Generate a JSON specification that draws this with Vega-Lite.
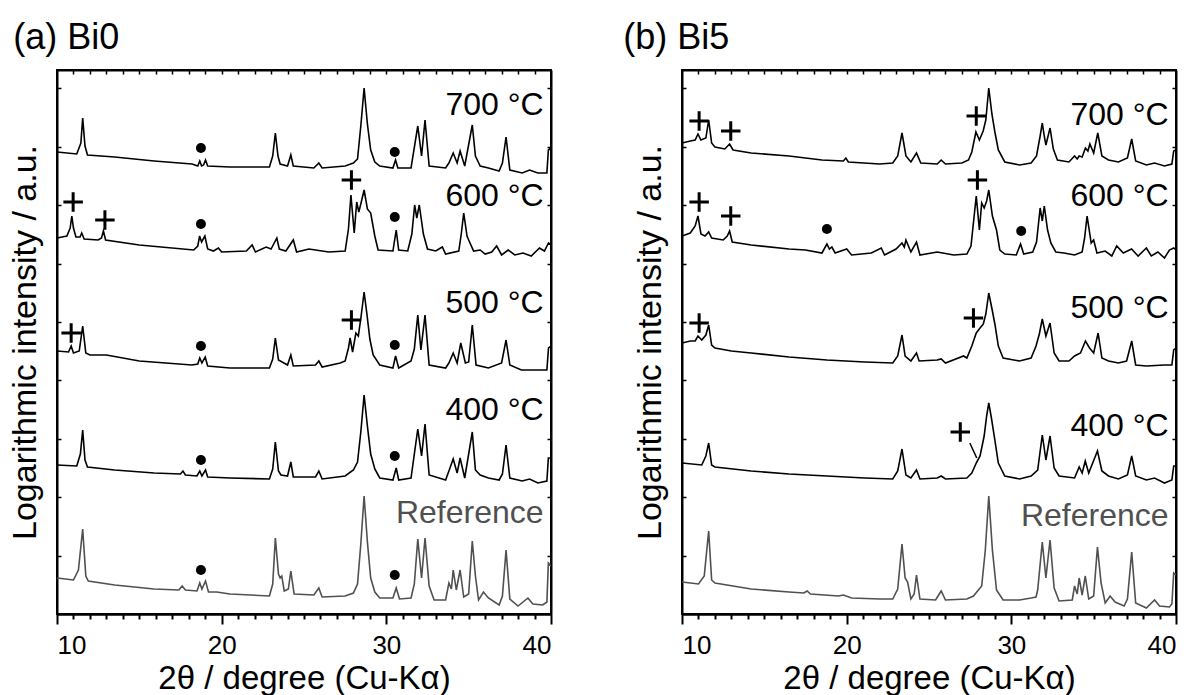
{
"$schema":"https://vega.github.io/schema/vega-lite/v6.json",
"padding":{"left":7,"top":19,"right":5,"bottom":0},
"config":{"view":{"stroke":"black","strokeWidth":2},"font":"Liberation Sans","axis":{"grid":false,"domainColor":"black","tickColor":"black","labelColor":"black","titleColor":"black","labelFont":"Liberation Sans","titleFont":"Liberation Sans","titleFontWeight":"normal"},"title":{"font":"Liberation Sans","fontWeight":"normal","color":"black"}},
"datasets":{
"a":[
{"s":"700","x":10,"y":462},{"s":"700","x":11.2,"y":460},{"s":"700","x":11.45,"y":471},{"s":"700","x":11.56,"y":496},{"s":"700","x":11.7,"y":468},{"s":"700","x":11.85,"y":459},{"s":"700","x":13.5,"y":457},{"s":"700","x":15.9,"y":453},{"s":"700","x":18.2,"y":450},{"s":"700","x":18.55,"y":448},{"s":"700","x":18.67,"y":453},{"s":"700","x":18.78,"y":448},{"s":"700","x":18.9,"y":449},{"s":"700","x":19.02,"y":454},{"s":"700","x":19.15,"y":448},{"s":"700","x":20.5,"y":447},{"s":"700","x":22.9,"y":447},{"s":"700","x":23.1,"y":458},{"s":"700","x":23.26,"y":481},{"s":"700","x":23.42,"y":458},{"s":"700","x":23.55,"y":450},{"s":"700","x":24.0,"y":448},{"s":"700","x":24.2,"y":459},{"s":"700","x":24.35,"y":448},{"s":"700","x":25.6,"y":446},{"s":"700","x":25.9,"y":451},{"s":"700","x":26.1,"y":446},{"s":"700","x":27.5,"y":448},{"s":"700","x":28.0,"y":451},{"s":"700","x":28.25,"y":455},{"s":"700","x":28.45,"y":488},{"s":"700","x":28.65,"y":526},{"s":"700","x":28.85,"y":490},{"s":"700","x":29.05,"y":464},{"s":"700","x":29.3,"y":452},{"s":"700","x":29.6,"y":448},{"s":"700","x":30.4,"y":446},{"s":"700","x":30.56,"y":454},{"s":"700","x":30.7,"y":446},{"s":"700","x":31.5,"y":446},{"s":"700","x":31.91,"y":488},{"s":"700","x":32.14,"y":458},{"s":"700","x":32.35,"y":494},{"s":"700","x":32.6,"y":448},{"s":"700","x":33.6,"y":446},{"s":"700","x":33.8,"y":451},{"s":"700","x":34.06,"y":461},{"s":"700","x":34.3,"y":451},{"s":"700","x":34.48,"y":463},{"s":"700","x":34.76,"y":448},{"s":"700","x":35.22,"y":489},{"s":"700","x":35.41,"y":458},{"s":"700","x":35.7,"y":448},{"s":"700","x":36.2,"y":446},{"s":"700","x":36.85,"y":443},{"s":"700","x":37.05,"y":451},{"s":"700","x":37.27,"y":477},{"s":"700","x":37.5,"y":444},{"s":"700","x":38.25,"y":441},{"s":"700","x":38.7,"y":444},{"s":"700","x":39.2,"y":441},{"s":"700","x":39.75,"y":441},{"s":"700","x":39.84,"y":464},{"s":"700","x":40,"y":466},
{"s":"600","x":10,"y":376},{"s":"600","x":10.6,"y":378},{"s":"600","x":10.8,"y":386},{"s":"600","x":10.9,"y":398},{"s":"600","x":11.0,"y":386},{"s":"600","x":11.15,"y":377},{"s":"600","x":11.4,"y":377},{"s":"600","x":11.5,"y":381},{"s":"600","x":11.65,"y":375},{"s":"600","x":12.5,"y":374},{"s":"600","x":12.7,"y":376},{"s":"600","x":12.82,"y":383},{"s":"600","x":12.95,"y":374},{"s":"600","x":15,"y":369},{"s":"600","x":18.3,"y":364},{"s":"600","x":18.55,"y":368},{"s":"600","x":18.66,"y":378},{"s":"600","x":18.78,"y":372},{"s":"600","x":18.98,"y":378},{"s":"600","x":19.15,"y":365},{"s":"600","x":19.5,"y":363},{"s":"600","x":19.8,"y":366},{"s":"600","x":20.0,"y":362},{"s":"600","x":21.5,"y":363},{"s":"600","x":21.85,"y":369},{"s":"600","x":22.05,"y":362},{"s":"600","x":22.7,"y":367},{"s":"600","x":23.0,"y":365},{"s":"600","x":23.35,"y":376},{"s":"600","x":23.5,"y":365},{"s":"600","x":23.9,"y":363},{"s":"600","x":24.35,"y":374},{"s":"600","x":24.55,"y":362},{"s":"600","x":25.3,"y":365},{"s":"600","x":26.5,"y":362},{"s":"600","x":27.5,"y":363},{"s":"600","x":27.7,"y":385},{"s":"600","x":27.85,"y":419},{"s":"600","x":28.05,"y":381},{"s":"600","x":28.2,"y":412},{"s":"600","x":28.33,"y":402},{"s":"600","x":28.45,"y":410},{"s":"600","x":28.65,"y":424},{"s":"600","x":28.85,"y":405},{"s":"600","x":29.05,"y":401},{"s":"600","x":29.3,"y":378},{"s":"600","x":29.5,"y":364},{"s":"600","x":30.4,"y":363},{"s":"600","x":30.6,"y":384},{"s":"600","x":30.75,"y":364},{"s":"600","x":31.3,"y":363},{"s":"600","x":31.55,"y":380},{"s":"600","x":31.72,"y":409},{"s":"600","x":31.85,"y":396},{"s":"600","x":32.0,"y":409},{"s":"600","x":32.25,"y":380},{"s":"600","x":32.5,"y":365},{"s":"600","x":33.0,"y":363},{"s":"600","x":33.4,"y":367},{"s":"600","x":33.6,"y":360},{"s":"600","x":34.4,"y":363},{"s":"600","x":34.55,"y":380},{"s":"600","x":34.7,"y":401},{"s":"600","x":34.9,"y":378},{"s":"600","x":35.0,"y":374},{"s":"600","x":35.3,"y":363},{"s":"600","x":35.7,"y":364},{"s":"600","x":36.0,"y":360},{"s":"600","x":36.4,"y":362},{"s":"600","x":36.7,"y":368},{"s":"600","x":37.0,"y":359},{"s":"600","x":37.4,"y":364},{"s":"600","x":37.8,"y":359},{"s":"600","x":38.3,"y":361},{"s":"600","x":38.8,"y":358},{"s":"600","x":39.3,"y":366},{"s":"600","x":39.6,"y":363},{"s":"600","x":39.85,"y":371},{"s":"600","x":40,"y":369},
{"s":"500","x":10,"y":263},{"s":"500","x":10.7,"y":262},{"s":"500","x":10.86,"y":268},{"s":"500","x":11.0,"y":261},{"s":"500","x":11.35,"y":263},{"s":"500","x":11.56,"y":288},{"s":"500","x":11.75,"y":261},{"s":"500","x":12,"y":259},{"s":"500","x":13,"y":259},{"s":"500","x":15,"y":253},{"s":"500","x":18.2,"y":249},{"s":"500","x":18.55,"y":250},{"s":"500","x":18.67,"y":256},{"s":"500","x":18.8,"y":251},{"s":"500","x":19.0,"y":257},{"s":"500","x":19.15,"y":248},{"s":"500","x":20.5,"y":246},{"s":"500","x":22.9,"y":246},{"s":"500","x":23.1,"y":255},{"s":"500","x":23.26,"y":276},{"s":"500","x":23.45,"y":254},{"s":"500","x":24.0,"y":249},{"s":"500","x":24.2,"y":259},{"s":"500","x":24.35,"y":248},{"s":"500","x":25.7,"y":249},{"s":"500","x":25.9,"y":253},{"s":"500","x":26.1,"y":247},{"s":"500","x":27.2,"y":251},{"s":"500","x":27.5,"y":253},{"s":"500","x":27.7,"y":266},{"s":"500","x":27.8,"y":276},{"s":"500","x":27.95,"y":262},{"s":"500","x":28.15,"y":281},{"s":"500","x":28.3,"y":278},{"s":"500","x":28.47,"y":298},{"s":"500","x":28.65,"y":322},{"s":"500","x":28.82,"y":300},{"s":"500","x":29.0,"y":275},{"s":"500","x":29.2,"y":259},{"s":"500","x":29.6,"y":249},{"s":"500","x":30.4,"y":246},{"s":"500","x":30.56,"y":258},{"s":"500","x":30.75,"y":246},{"s":"500","x":31.5,"y":253},{"s":"500","x":31.7,"y":265},{"s":"500","x":31.91,"y":299},{"s":"500","x":32.1,"y":264},{"s":"500","x":32.35,"y":299},{"s":"500","x":32.6,"y":249},{"s":"500","x":33.6,"y":246},{"s":"500","x":33.8,"y":251},{"s":"500","x":34.06,"y":261},{"s":"500","x":34.3,"y":251},{"s":"500","x":34.52,"y":271},{"s":"500","x":34.8,"y":251},{"s":"500","x":35.0,"y":252},{"s":"500","x":35.22,"y":289},{"s":"500","x":35.45,"y":249},{"s":"500","x":36.2,"y":246},{"s":"500","x":37.0,"y":251},{"s":"500","x":37.27,"y":274},{"s":"500","x":37.5,"y":249},{"s":"500","x":38.2,"y":244},{"s":"500","x":39.2,"y":244},{"s":"500","x":39.75,"y":244},{"s":"500","x":39.85,"y":266},{"s":"500","x":40,"y":268},
{"s":"400","x":10,"y":149},{"s":"400","x":11.2,"y":148},{"s":"400","x":11.42,"y":160},{"s":"400","x":11.56,"y":184},{"s":"400","x":11.7,"y":154},{"s":"400","x":11.85,"y":147},{"s":"400","x":13.5,"y":144},{"s":"400","x":15.9,"y":141},{"s":"400","x":17.5,"y":140},{"s":"400","x":17.65,"y":143},{"s":"400","x":17.8,"y":139},{"s":"400","x":18.5,"y":138},{"s":"400","x":18.67,"y":143},{"s":"400","x":18.8,"y":138},{"s":"400","x":19.02,"y":144},{"s":"400","x":19.15,"y":137},{"s":"400","x":20.5,"y":136},{"s":"400","x":22.9,"y":135},{"s":"400","x":23.1,"y":145},{"s":"400","x":23.26,"y":172},{"s":"400","x":23.45,"y":143},{"s":"400","x":23.6,"y":139},{"s":"400","x":24.0,"y":138},{"s":"400","x":24.2,"y":152},{"s":"400","x":24.35,"y":137},{"s":"400","x":25.7,"y":137},{"s":"400","x":25.9,"y":143},{"s":"400","x":26.1,"y":135},{"s":"400","x":27.5,"y":138},{"s":"400","x":28.0,"y":144},{"s":"400","x":28.25,"y":152},{"s":"400","x":28.45,"y":182},{"s":"400","x":28.65,"y":219},{"s":"400","x":28.85,"y":188},{"s":"400","x":29.05,"y":160},{"s":"400","x":29.3,"y":145},{"s":"400","x":29.6,"y":136},{"s":"400","x":30.4,"y":134},{"s":"400","x":30.6,"y":146},{"s":"400","x":30.75,"y":134},{"s":"400","x":31.5,"y":136},{"s":"400","x":31.91,"y":185},{"s":"400","x":32.14,"y":158},{"s":"400","x":32.35,"y":190},{"s":"400","x":32.6,"y":139},{"s":"400","x":33.6,"y":134},{"s":"400","x":33.8,"y":143},{"s":"400","x":34.06,"y":155},{"s":"400","x":34.3,"y":141},{"s":"400","x":34.48,"y":156},{"s":"400","x":34.76,"y":136},{"s":"400","x":35.22,"y":182},{"s":"400","x":35.41,"y":144},{"s":"400","x":35.7,"y":139},{"s":"400","x":36.2,"y":136},{"s":"400","x":36.85,"y":134},{"s":"400","x":37.05,"y":140},{"s":"400","x":37.27,"y":169},{"s":"400","x":37.5,"y":136},{"s":"400","x":38.25,"y":133},{"s":"400","x":38.7,"y":135},{"s":"400","x":39.2,"y":131},{"s":"400","x":39.75,"y":133},{"s":"400","x":39.84,"y":156},{"s":"400","x":40,"y":156},
{"s":"Reference","x":10,"y":36},{"s":"Reference","x":11.0,"y":34},{"s":"Reference","x":11.3,"y":44},{"s":"Reference","x":11.56,"y":85},{"s":"Reference","x":11.75,"y":38},{"s":"Reference","x":11.9,"y":33},{"s":"Reference","x":13.5,"y":29},{"s":"Reference","x":15.9,"y":25},{"s":"Reference","x":17.4,"y":24},{"s":"Reference","x":17.6,"y":28},{"s":"Reference","x":17.8,"y":24},{"s":"Reference","x":18.5,"y":23},{"s":"Reference","x":18.67,"y":31},{"s":"Reference","x":18.8,"y":25},{"s":"Reference","x":19.02,"y":33},{"s":"Reference","x":19.2,"y":22},{"s":"Reference","x":19.7,"y":22},{"s":"Reference","x":20.5,"y":20},{"s":"Reference","x":22.9,"y":18},{"s":"Reference","x":23.1,"y":30},{"s":"Reference","x":23.26,"y":76},{"s":"Reference","x":23.45,"y":40},{"s":"Reference","x":23.55,"y":36},{"s":"Reference","x":23.65,"y":38},{"s":"Reference","x":23.8,"y":23},{"s":"Reference","x":24.05,"y":25},{"s":"Reference","x":24.2,"y":43},{"s":"Reference","x":24.4,"y":20},{"s":"Reference","x":25.6,"y":19},{"s":"Reference","x":25.9,"y":26},{"s":"Reference","x":26.1,"y":17},{"s":"Reference","x":27.5,"y":18},{"s":"Reference","x":28.0,"y":21},{"s":"Reference","x":28.25,"y":30},{"s":"Reference","x":28.45,"y":70},{"s":"Reference","x":28.65,"y":118},{"s":"Reference","x":28.85,"y":72},{"s":"Reference","x":29.05,"y":36},{"s":"Reference","x":29.3,"y":22},{"s":"Reference","x":29.6,"y":16},{"s":"Reference","x":30.4,"y":16},{"s":"Reference","x":30.6,"y":26},{"s":"Reference","x":30.8,"y":15},{"s":"Reference","x":31.5,"y":16},{"s":"Reference","x":31.7,"y":30},{"s":"Reference","x":31.91,"y":75},{"s":"Reference","x":32.14,"y":36},{"s":"Reference","x":32.35,"y":76},{"s":"Reference","x":32.6,"y":28},{"s":"Reference","x":32.9,"y":14},{"s":"Reference","x":33.6,"y":14},{"s":"Reference","x":33.8,"y":31},{"s":"Reference","x":33.95,"y":25},{"s":"Reference","x":34.06,"y":44},{"s":"Reference","x":34.25,"y":24},{"s":"Reference","x":34.48,"y":44},{"s":"Reference","x":34.7,"y":17},{"s":"Reference","x":35.0,"y":20},{"s":"Reference","x":35.22,"y":73},{"s":"Reference","x":35.41,"y":38},{"s":"Reference","x":35.6,"y":14},{"s":"Reference","x":35.9,"y":22},{"s":"Reference","x":36.2,"y":16},{"s":"Reference","x":36.85,"y":9},{"s":"Reference","x":37.05,"y":18},{"s":"Reference","x":37.27,"y":64},{"s":"Reference","x":37.5,"y":15},{"s":"Reference","x":38.0,"y":8},{"s":"Reference","x":38.6,"y":16},{"s":"Reference","x":38.9,"y":10},{"s":"Reference","x":39.5,"y":9},{"s":"Reference","x":39.75,"y":12},{"s":"Reference","x":39.84,"y":51},{"s":"Reference","x":40,"y":48}
],
"b":[
{"s":"700","x":10,"y":471},{"s":"700","x":10.5,"y":473},{"s":"700","x":10.8,"y":474},{"s":"700","x":10.97,"y":480},{"s":"700","x":11.15,"y":474},{"s":"700","x":11.45,"y":476},{"s":"700","x":11.62,"y":494},{"s":"700","x":11.8,"y":471},{"s":"700","x":12.0,"y":467},{"s":"700","x":12.6,"y":465},{"s":"700","x":12.89,"y":470},{"s":"700","x":13.1,"y":464},{"s":"700","x":14.2,"y":461},{"s":"700","x":16.5,"y":458},{"s":"700","x":18.5,"y":454},{"s":"700","x":19.8,"y":453},{"s":"700","x":19.95,"y":456},{"s":"700","x":20.1,"y":452},{"s":"700","x":22.0,"y":450},{"s":"700","x":22.8,"y":451},{"s":"700","x":23.1,"y":458},{"s":"700","x":23.36,"y":481},{"s":"700","x":23.6,"y":458},{"s":"700","x":23.9,"y":452},{"s":"700","x":24.24,"y":461},{"s":"700","x":24.5,"y":451},{"s":"700","x":25.5,"y":450},{"s":"700","x":25.74,"y":454},{"s":"700","x":26.0,"y":450},{"s":"700","x":27.0,"y":451},{"s":"700","x":27.4,"y":454},{"s":"700","x":27.6,"y":462},{"s":"700","x":27.85,"y":482},{"s":"700","x":28.06,"y":474},{"s":"700","x":28.29,"y":483},{"s":"700","x":28.45,"y":494},{"s":"700","x":28.63,"y":526},{"s":"700","x":28.82,"y":500},{"s":"700","x":29.0,"y":482},{"s":"700","x":29.21,"y":464},{"s":"700","x":29.6,"y":452},{"s":"700","x":30.5,"y":449},{"s":"700","x":31.2,"y":451},{"s":"700","x":31.53,"y":458},{"s":"700","x":31.75,"y":478},{"s":"700","x":31.88,"y":491},{"s":"700","x":32.0,"y":478},{"s":"700","x":32.1,"y":469},{"s":"700","x":32.35,"y":486},{"s":"700","x":32.55,"y":465},{"s":"700","x":32.8,"y":454},{"s":"700","x":33.5,"y":452},{"s":"700","x":33.84,"y":458},{"s":"700","x":34.0,"y":455},{"s":"700","x":34.12,"y":458},{"s":"700","x":34.3,"y":457},{"s":"700","x":34.5,"y":466},{"s":"700","x":34.65,"y":463},{"s":"700","x":34.77,"y":470},{"s":"700","x":35.0,"y":461},{"s":"700","x":35.25,"y":481},{"s":"700","x":35.5,"y":458},{"s":"700","x":35.9,"y":454},{"s":"700","x":36.5,"y":452},{"s":"700","x":37.05,"y":456},{"s":"700","x":37.31,"y":475},{"s":"700","x":37.55,"y":453},{"s":"700","x":38.2,"y":449},{"s":"700","x":38.7,"y":451},{"s":"700","x":39.3,"y":448},{"s":"700","x":39.75,"y":450},{"s":"700","x":39.86,"y":463},{"s":"700","x":40,"y":464},
{"s":"600","x":10,"y":378},{"s":"600","x":10.5,"y":381},{"s":"600","x":10.8,"y":388},{"s":"600","x":10.97,"y":398},{"s":"600","x":11.15,"y":380},{"s":"600","x":11.4,"y":378},{"s":"600","x":11.62,"y":382},{"s":"600","x":11.8,"y":376},{"s":"600","x":12.5,"y":374},{"s":"600","x":12.75,"y":378},{"s":"600","x":12.89,"y":383},{"s":"600","x":13.05,"y":372},{"s":"600","x":14.2,"y":369},{"s":"600","x":16.5,"y":365},{"s":"600","x":17.5,"y":364},{"s":"600","x":18.5,"y":361},{"s":"600","x":18.8,"y":370},{"s":"600","x":18.95,"y":365},{"s":"600","x":19.1,"y":367},{"s":"600","x":19.3,"y":361},{"s":"600","x":20.0,"y":365},{"s":"600","x":20.3,"y":359},{"s":"600","x":21.5,"y":361},{"s":"600","x":22.1,"y":366},{"s":"600","x":22.3,"y":359},{"s":"600","x":23.0,"y":365},{"s":"600","x":23.36,"y":371},{"s":"600","x":23.5,"y":367},{"s":"600","x":23.6,"y":374},{"s":"600","x":23.9,"y":362},{"s":"600","x":24.24,"y":372},{"s":"600","x":24.45,"y":359},{"s":"600","x":25.5,"y":362},{"s":"600","x":26.5,"y":359},{"s":"600","x":27.3,"y":360},{"s":"600","x":27.55,"y":368},{"s":"600","x":27.87,"y":418},{"s":"600","x":28.06,"y":384},{"s":"600","x":28.2,"y":411},{"s":"600","x":28.35,"y":406},{"s":"600","x":28.5,"y":413},{"s":"600","x":28.63,"y":424},{"s":"600","x":28.85,"y":398},{"s":"600","x":29.1,"y":384},{"s":"600","x":29.3,"y":364},{"s":"600","x":29.6,"y":360},{"s":"600","x":30.3,"y":359},{"s":"600","x":30.56,"y":370},{"s":"600","x":30.75,"y":360},{"s":"600","x":31.3,"y":362},{"s":"600","x":31.53,"y":372},{"s":"600","x":31.75,"y":406},{"s":"600","x":31.88,"y":393},{"s":"600","x":32.0,"y":408},{"s":"600","x":32.2,"y":384},{"s":"600","x":32.4,"y":371},{"s":"600","x":32.7,"y":362},{"s":"600","x":33.2,"y":361},{"s":"600","x":33.84,"y":359},{"s":"600","x":34.3,"y":362},{"s":"600","x":34.45,"y":376},{"s":"600","x":34.6,"y":398},{"s":"600","x":34.85,"y":371},{"s":"600","x":35.0,"y":374},{"s":"600","x":35.2,"y":361},{"s":"600","x":35.7,"y":363},{"s":"600","x":36.1,"y":358},{"s":"600","x":36.4,"y":368},{"s":"600","x":36.8,"y":361},{"s":"600","x":37.3,"y":365},{"s":"600","x":37.7,"y":358},{"s":"600","x":38.2,"y":366},{"s":"600","x":38.5,"y":358},{"s":"600","x":38.9,"y":362},{"s":"600","x":39.3,"y":356},{"s":"600","x":39.6,"y":364},{"s":"600","x":39.86,"y":366},{"s":"600","x":40,"y":364},
{"s":"500","x":10,"y":271},{"s":"500","x":10.5,"y":273},{"s":"500","x":10.8,"y":273},{"s":"500","x":10.97,"y":278},{"s":"500","x":11.2,"y":274},{"s":"500","x":11.45,"y":279},{"s":"500","x":11.62,"y":289},{"s":"500","x":11.8,"y":269},{"s":"500","x":12.0,"y":266},{"s":"500","x":13,"y":263},{"s":"500","x":14.2,"y":261},{"s":"500","x":16.5,"y":257},{"s":"500","x":18.8,"y":254},{"s":"500","x":21.1,"y":252},{"s":"500","x":22.8,"y":251},{"s":"500","x":23.1,"y":258},{"s":"500","x":23.36,"y":279},{"s":"500","x":23.55,"y":258},{"s":"500","x":23.9,"y":253},{"s":"500","x":24.24,"y":261},{"s":"500","x":24.4,"y":253},{"s":"500","x":25.5,"y":254},{"s":"500","x":25.74,"y":255},{"s":"500","x":26.0,"y":251},{"s":"500","x":27.1,"y":258},{"s":"500","x":27.3,"y":256},{"s":"500","x":27.6,"y":268},{"s":"500","x":27.87,"y":281},{"s":"500","x":28.1,"y":286},{"s":"500","x":28.3,"y":290},{"s":"500","x":28.45,"y":300},{"s":"500","x":28.63,"y":321},{"s":"500","x":28.85,"y":303},{"s":"500","x":29.0,"y":290},{"s":"500","x":29.21,"y":268},{"s":"500","x":29.5,"y":256},{"s":"500","x":30.5,"y":253},{"s":"500","x":31.2,"y":256},{"s":"500","x":31.5,"y":268},{"s":"500","x":31.7,"y":280},{"s":"500","x":31.88,"y":295},{"s":"500","x":32.1,"y":278},{"s":"500","x":32.35,"y":291},{"s":"500","x":32.6,"y":261},{"s":"500","x":32.9,"y":253},{"s":"500","x":33.5,"y":253},{"s":"500","x":33.84,"y":258},{"s":"500","x":34.2,"y":261},{"s":"500","x":34.5,"y":273},{"s":"500","x":34.75,"y":266},{"s":"500","x":35.0,"y":261},{"s":"500","x":35.27,"y":281},{"s":"500","x":35.5,"y":256},{"s":"500","x":35.9,"y":253},{"s":"500","x":36.5,"y":251},{"s":"500","x":37.0,"y":253},{"s":"500","x":37.31,"y":273},{"s":"500","x":37.55,"y":249},{"s":"500","x":38.2,"y":248},{"s":"500","x":39.3,"y":249},{"s":"500","x":39.75,"y":249},{"s":"500","x":39.86,"y":264},{"s":"500","x":40,"y":266},
{"s":"400","x":10,"y":151},{"s":"400","x":11.2,"y":149},{"s":"400","x":11.45,"y":158},{"s":"400","x":11.62,"y":171},{"s":"400","x":11.8,"y":149},{"s":"400","x":12.0,"y":147},{"s":"400","x":14.2,"y":143},{"s":"400","x":16.5,"y":140},{"s":"400","x":18.8,"y":138},{"s":"400","x":21.1,"y":136},{"s":"400","x":22.8,"y":135},{"s":"400","x":23.1,"y":143},{"s":"400","x":23.36,"y":165},{"s":"400","x":23.6,"y":139},{"s":"400","x":23.9,"y":136},{"s":"400","x":24.24,"y":144},{"s":"400","x":24.45,"y":135},{"s":"400","x":25.5,"y":136},{"s":"400","x":25.74,"y":138},{"s":"400","x":26.0,"y":135},{"s":"400","x":27.3,"y":136},{"s":"400","x":27.6,"y":141},{"s":"400","x":27.87,"y":151},{"s":"400","x":28.1,"y":158},{"s":"400","x":28.35,"y":178},{"s":"400","x":28.5,"y":198},{"s":"400","x":28.63,"y":211},{"s":"400","x":28.8,"y":195},{"s":"400","x":28.98,"y":176},{"s":"400","x":29.21,"y":151},{"s":"400","x":29.6,"y":138},{"s":"400","x":30.5,"y":135},{"s":"400","x":31.2,"y":138},{"s":"400","x":31.6,"y":144},{"s":"400","x":31.88,"y":179},{"s":"400","x":32.1,"y":154},{"s":"400","x":32.35,"y":178},{"s":"400","x":32.6,"y":146},{"s":"400","x":32.9,"y":138},{"s":"400","x":33.84,"y":136},{"s":"400","x":34.12,"y":147},{"s":"400","x":34.3,"y":141},{"s":"400","x":34.49,"y":153},{"s":"400","x":34.7,"y":141},{"s":"400","x":35.23,"y":163},{"s":"400","x":35.5,"y":143},{"s":"400","x":35.9,"y":138},{"s":"400","x":36.5,"y":135},{"s":"400","x":37.05,"y":139},{"s":"400","x":37.31,"y":158},{"s":"400","x":37.55,"y":138},{"s":"400","x":38.2,"y":134},{"s":"400","x":38.7,"y":136},{"s":"400","x":39.3,"y":131},{"s":"400","x":39.75,"y":134},{"s":"400","x":39.86,"y":148},{"s":"400","x":40,"y":148},
{"s":"Reference","x":10,"y":32},{"s":"Reference","x":11.0,"y":30},{"s":"Reference","x":11.35,"y":38},{"s":"Reference","x":11.62,"y":83},{"s":"Reference","x":11.8,"y":34},{"s":"Reference","x":12.0,"y":31},{"s":"Reference","x":14.2,"y":25},{"s":"Reference","x":16.5,"y":22},{"s":"Reference","x":17.4,"y":21},{"s":"Reference","x":17.6,"y":23},{"s":"Reference","x":17.8,"y":20},{"s":"Reference","x":19.5,"y":18},{"s":"Reference","x":19.8,"y":19},{"s":"Reference","x":20.3,"y":16},{"s":"Reference","x":22.0,"y":15},{"s":"Reference","x":22.8,"y":15},{"s":"Reference","x":23.1,"y":25},{"s":"Reference","x":23.36,"y":70},{"s":"Reference","x":23.55,"y":36},{"s":"Reference","x":23.7,"y":32},{"s":"Reference","x":23.9,"y":15},{"s":"Reference","x":24.1,"y":20},{"s":"Reference","x":24.24,"y":39},{"s":"Reference","x":24.45,"y":15},{"s":"Reference","x":25.4,"y":14},{"s":"Reference","x":25.74,"y":23},{"s":"Reference","x":26.0,"y":14},{"s":"Reference","x":27.3,"y":15},{"s":"Reference","x":27.7,"y":18},{"s":"Reference","x":28.2,"y":28},{"s":"Reference","x":28.42,"y":64},{"s":"Reference","x":28.63,"y":118},{"s":"Reference","x":28.85,"y":64},{"s":"Reference","x":29.1,"y":24},{"s":"Reference","x":29.5,"y":14},{"s":"Reference","x":30.5,"y":14},{"s":"Reference","x":31.2,"y":16},{"s":"Reference","x":31.5,"y":17},{"s":"Reference","x":31.6,"y":24},{"s":"Reference","x":31.88,"y":72},{"s":"Reference","x":32.1,"y":36},{"s":"Reference","x":32.35,"y":74},{"s":"Reference","x":32.6,"y":26},{"s":"Reference","x":32.9,"y":13},{"s":"Reference","x":33.7,"y":14},{"s":"Reference","x":33.84,"y":28},{"s":"Reference","x":34.0,"y":20},{"s":"Reference","x":34.12,"y":36},{"s":"Reference","x":34.3,"y":19},{"s":"Reference","x":34.49,"y":38},{"s":"Reference","x":34.7,"y":15},{"s":"Reference","x":35.0,"y":18},{"s":"Reference","x":35.23,"y":67},{"s":"Reference","x":35.45,"y":31},{"s":"Reference","x":35.7,"y":11},{"s":"Reference","x":36.0,"y":18},{"s":"Reference","x":36.3,"y":12},{"s":"Reference","x":36.85,"y":8},{"s":"Reference","x":37.05,"y":15},{"s":"Reference","x":37.31,"y":62},{"s":"Reference","x":37.55,"y":11},{"s":"Reference","x":38.2,"y":6},{"s":"Reference","x":38.7,"y":14},{"s":"Reference","x":39.0,"y":8},{"s":"Reference","x":39.6,"y":7},{"s":"Reference","x":39.75,"y":10},{"s":"Reference","x":39.86,"y":41},{"s":"Reference","x":40,"y":39}
],
"a_lab":[{"s":"700","t":"700 °C","x":39.55,"y":509},{"s":"600","t":"600 °C","x":39.55,"y":418},{"s":"500","t":"500 °C","x":39.55,"y":311},{"s":"400","t":"400 °C","x":39.55,"y":204},{"s":"Reference","t":"Reference","x":39.55,"y":101}],
"b_lab":[{"s":"700","t":"700 °C","x":39.55,"y":499},{"s":"600","t":"600 °C","x":39.55,"y":418},{"s":"500","t":"500 °C","x":39.55,"y":306},{"s":"400","t":"400 °C","x":39.55,"y":188},{"s":"Reference","t":"Reference","x":39.55,"y":98}],
"a_dot":[{"x":18.74,"y":466},{"x":30.51,"y":462},{"x":18.74,"y":390},{"x":30.51,"y":397},{"x":18.74,"y":268},{"x":30.51,"y":269},{"x":18.74,"y":154},{"x":30.51,"y":158},{"x":18.74,"y":44},{"x":30.51,"y":39}],
"b_dot":[{"x":18.8,"y":385},{"x":30.6,"y":383}],
"a_plus":[{"x":10.98,"y":412},{"x":12.91,"y":394},{"x":27.88,"y":434},{"x":10.86,"y":281},{"x":27.88,"y":294}],
"b_plus":[{"x":11.04,"y":493},{"x":12.96,"y":483},{"x":27.87,"y":498},{"x":11.04,"y":412},{"x":12.96,"y":398},{"x":27.94,"y":434},{"x":11.04,"y":291},{"x":27.7,"y":296},{"x":26.9,"y":182}],
"b_lead":[{"x":27.48,"y":171,"x2":27.9,"y2":156}]
},
"spacing":69,
"hconcat":[
{"width":494,"height":544,
"title":{"text":"(a) Bi0","anchor":"start","frame":"bounds","fontSize":36,"offset":12,"dx":5},
"resolve":{"axis":{"x":"independent","y":"independent"}},
"layer":[
{"data":{"name":"a"},"mark":{"type":"line","strokeWidth":1.6,"clip":true},
"encoding":{"x":{"field":"x","type":"quantitative","scale":{"domain":[10,40],"nice":false,"zero":false},"axis":{"orient":"bottom","values":[10,20,30,40],"tickSize":10,"tickWidth":2,"domainWidth":2.5,"labelFontSize":26,"labelPadding":8,"title":"2θ  / degree (Cu-Kα)","titleFontSize":33,"titlePadding":4}},
"y":{"field":"y","type":"quantitative","scale":{"domain":[0,544],"nice":false,"zero":false},"axis":{"orient":"left","values":[58.4,116.8,175.2,233.6,292,350.4,408.8,467.2,525.6],"tickSize":-4,"tickWidth":1.5,"labels":false,"domainWidth":2,"title":"Logarithmic intensity  / a.u.","titleFontSize":34,"titlePadding":14}},
"color":{"field":"s","type":"nominal","scale":{"domain":["700","600","500","400","Reference"],"range":["#000000","#000000","#000000","#000000","#505050"]},"legend":null}}},
{"data":{"name":"a_dot"},"mark":{"type":"point","shape":"circle","filled":true,"size":100,"color":"black","opacity":1},
"encoding":{"x":{"field":"x","type":"quantitative","axis":{"orient":"bottom","values":[11,12,13,14,15,16,17,18,19,21,22,23,24,25,26,27,28,29,31,32,33,34,35,36,37,38,39],"tickSize":5,"tickWidth":2,"labels":false,"domain":false,"title":null}},
"y":{"field":"y","type":"quantitative","axis":{"orient":"right","values":[58.4,116.8,175.2,233.6,292,350.4,408.8,467.2,525.6],"tickSize":-4,"tickWidth":1.5,"labels":false,"domainWidth":2,"title":null}}}},
{"data":{"name":"a_plus"},"mark":{"type":"point","shape":"M-1,0L1,0M0,-1L0,1","filled":false,"size":380,"strokeWidth":3,"color":"black","opacity":1},
"encoding":{"x":{"field":"x","type":"quantitative","axis":{"orient":"top","values":[11,12,13,14,15,16,17,18,19,20,21,22,23,24,25,26,27,28,29,30,31,32,33,34,35,36,37,38,39],"tickSize":-4,"tickWidth":1.5,"labels":false,"domainWidth":2,"title":null}},
"y":{"field":"y","type":"quantitative","axis":null}}},
{"data":{"name":"a_lab"},"mark":{"type":"text","align":"right","baseline":"middle","fontSize":32,"font":"Liberation Sans"},
"encoding":{"x":{"field":"x","type":"quantitative","axis":null},"y":{"field":"y","type":"quantitative","axis":null},"text":{"field":"t"},"color":{"field":"s","type":"nominal","legend":null}}}
]},
{"width":494,"height":544,
"title":{"text":"(b) Bi5","anchor":"start","frame":"bounds","fontSize":36,"offset":12,"dx":-10},
"resolve":{"axis":{"x":"independent","y":"independent"}},
"layer":[
{"data":{"name":"b"},"mark":{"type":"line","strokeWidth":1.6,"clip":true},
"encoding":{"x":{"field":"x","type":"quantitative","scale":{"domain":[10,40],"nice":false,"zero":false},"axis":{"orient":"bottom","values":[10,20,30,40],"tickSize":10,"tickWidth":2,"domainWidth":2.5,"labelFontSize":26,"labelPadding":8,"title":"2θ  / degree (Cu-Kα)","titleFontSize":33,"titlePadding":4}},
"y":{"field":"y","type":"quantitative","scale":{"domain":[0,544],"nice":false,"zero":false},"axis":{"orient":"left","values":[58.4,116.8,175.2,233.6,292,350.4,408.8,467.2,525.6],"tickSize":-4,"tickWidth":1.5,"labels":false,"domainWidth":2,"title":"Logarithmic intensity  / a.u.","titleFontSize":34,"titlePadding":14}},
"color":{"field":"s","type":"nominal","scale":{"domain":["700","600","500","400","Reference"],"range":["#000000","#000000","#000000","#000000","#505050"]},"legend":null}}},
{"data":{"name":"b_dot"},"mark":{"type":"point","shape":"circle","filled":true,"size":100,"color":"black","opacity":1},
"encoding":{"x":{"field":"x","type":"quantitative","axis":{"orient":"bottom","values":[11,12,13,14,15,16,17,18,19,21,22,23,24,25,26,27,28,29,31,32,33,34,35,36,37,38,39],"tickSize":5,"tickWidth":2,"labels":false,"domain":false,"title":null}},
"y":{"field":"y","type":"quantitative","axis":{"orient":"right","values":[58.4,116.8,175.2,233.6,292,350.4,408.8,467.2,525.6],"tickSize":-4,"tickWidth":1.5,"labels":false,"domainWidth":2,"title":null}}}},
{"data":{"name":"b_plus"},"mark":{"type":"point","shape":"M-1,0L1,0M0,-1L0,1","filled":false,"size":380,"strokeWidth":3,"color":"black","opacity":1},
"encoding":{"x":{"field":"x","type":"quantitative","axis":{"orient":"top","values":[11,12,13,14,15,16,17,18,19,20,21,22,23,24,25,26,27,28,29,30,31,32,33,34,35,36,37,38,39],"tickSize":-4,"tickWidth":1.5,"labels":false,"domainWidth":2,"title":null}},
"y":{"field":"y","type":"quantitative","axis":null}}},
{"data":{"name":"b_lead"},"mark":{"type":"rule","strokeWidth":1.5,"color":"black"},
"encoding":{"x":{"field":"x","type":"quantitative","axis":null},"y":{"field":"y","type":"quantitative","axis":null},"x2":{"field":"x2"},"y2":{"field":"y2"}}},
{"data":{"name":"b_lab"},"mark":{"type":"text","align":"right","baseline":"middle","fontSize":32,"font":"Liberation Sans"},
"encoding":{"x":{"field":"x","type":"quantitative","axis":null},"y":{"field":"y","type":"quantitative","axis":null},"text":{"field":"t"},"color":{"field":"s","type":"nominal","legend":null}}}
]}
]
}
